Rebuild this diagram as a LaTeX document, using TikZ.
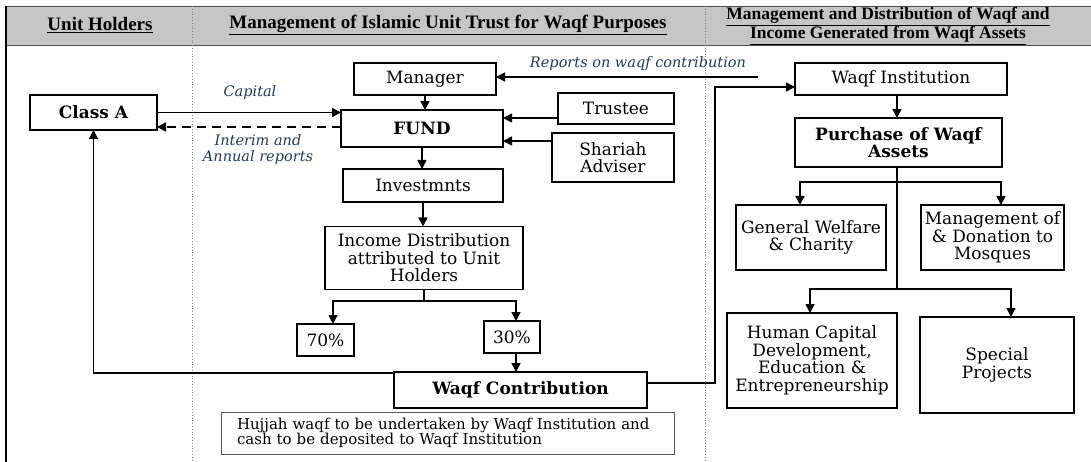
\documentclass[tikz,border=0pt]{standalone}
\usepackage{fontspec}
\setmainfont{DejaVu Serif}
\newfontfamily\hdrfont{Liberation Serif}
\usetikzlibrary{arrows.meta,calc}
\definecolor{lblue}{HTML}{1F3A5F}
\definecolor{hdrgray}{HTML}{C6C6C6}
\begin{document}
\begin{tikzpicture}[x=1pt,y=-1pt,
 box/.style={draw, line width=1.6pt, inner sep=0pt, outer sep=0pt, align=center, font=\fontsize{17}{17.5}\selectfont},
 boldbox/.style={box, font=\fontsize{17}{17.5}\selectfont\bfseries},
 arr/.style={line width=1.6pt, -{Triangle[length=9pt,width=9pt]}},
 ln/.style={line width=1.6pt},
 lbl/.style={font=\fontsize{14.5}{15.5}\selectfont\itshape, text=lblue, align=center, inner sep=0pt},
 hdr/.style={font=\hdrfont\bfseries\fontsize{19}{17}\selectfont, align=center, inner sep=0pt},
 hdrr/.style={font=\hdrfont\bfseries\fontsize{17.5}{16.5}\selectfont, align=center, inner sep=0pt},
 sep/.style={draw=gray, dotted, line width=0.8pt}]
\useasboundingbox (0,0) rectangle (1091,462);
% header band
\fill[hdrgray] (6,6) rectangle (1091,45);
\draw[gray!60!black, line width=0.8pt] (6,6) -- (1091,6);
\draw[gray!60!black, line width=0.8pt] (6,45) -- (1091,45);
\draw[black, line width=1.2pt] (6,6) -- (6,462);
\draw[sep] (192,6) -- (192,462);
\draw[sep] (705,6) -- (705,462);
\node[hdr] (h1) at (100,25) {\underline{Unit Holders}};
\node[hdr] (h2) at (448,25) {\underline{Management of Islamic Unit Trust for Waqf Purposes}};
\node[hdrr] (h3) at (888,26) {\underline{Management and Distribution of Waqf and}\\\underline{Income Generated from Waqf Assets}};
% nodes
\node[boldbox, minimum width=127pt, minimum height=35pt] (classA) at (93.5,112.5) {Class A};
\node[box, minimum width=142pt, minimum height=32pt] (manager) at (425,79) {Manager};
\node[boldbox, minimum width=162pt, minimum height=37pt] (fund) at (422,128.5) {FUND};
\node[box, minimum width=116pt, minimum height=31pt] (trustee) at (616,108.5) {Trustee};
\node[box, minimum width=122pt, minimum height=49pt] (shariah) at (613,157.5) {Shariah\\Adviser};
\node[box, minimum width=160pt, minimum height=33pt] (invest) at (423,185.5) {Investmnts};
\node[box, minimum width=198pt, minimum height=63pt] (income) at (424,258) {Income Distribution\\attributed to Unit\\Holders};
\node[box, minimum width=57pt, minimum height=32pt] (p70) at (325.5,340) {70\%};
\node[box, minimum width=56pt, minimum height=32pt] (p30) at (512,337) {30\%};
\node[boldbox, line width=2.8pt, minimum width=253pt, minimum height=36pt] (wc) at (520.5,390) {Waqf Contribution};
\node[draw=gray!70!black, line width=1pt, inner sep=0pt, minimum width=453pt, minimum height=42pt, font=\fontsize{15}{15}\selectfont, align=left, text width=421pt] (hujjah) at (447.5,433) {Hujjah waqf to be undertaken by Waqf Institution and\\cash to be deposited to Waqf Institution};
\node[box, minimum width=212pt, minimum height=32pt] (wi) at (901,79) {Waqf Institution};
\node[boldbox, minimum width=207pt, minimum height=49pt] (purchase) at (898.5,142.5) {Purchase of Waqf\\Assets};
\node[box, minimum width=150pt, minimum height=65pt] (gw) at (811,237.5) {General Welfare\\\& Charity};
\node[box, minimum width=143pt, minimum height=65pt] (mosq) at (992.5,237.5) {Management of\\\& Donation to\\Mosques};
\node[box, minimum width=170pt, minimum height=95pt] (hc) at (812,360.5) {Human Capital\\Development,\\Education \&\\Entrepreneurship};
\node[box, minimum width=154pt, minimum height=96pt] (sp) at (997,365) {Special\\Projects};
% labels
\node[lbl] (lcap) at (250,93) {Capital};
\node[lbl] (lint) at (258,149.5) {Interim and\\Annual reports};
\node[lbl] (lrep) at (638,64) {Reports on waqf contribution};
% connectors left/middle
\draw[arr] (classA.east) -- (classA.east -| fund.west);
\draw[arr, dash pattern=on 9pt off 6pt] (fund.west |- 0,127) -- (classA.east |- 0,127);
\draw[arr] (manager.south) -- (manager.south |- fund.north);
\draw[arr] (trustee.west |- 0,118) -- (fund.east |- 0,118);
\draw[arr] (shariah.west |- 0,141) -- (fund.east |- 0,141);
\draw[arr] (fund.south) -- (fund.south |- invest.north);
\draw[arr] (invest.south) -- (invest.south |- income.north);
\coordinate (b70) at (333,301);
\coordinate (b30) at (516,301);
\draw[ln] (income.south) -- (income.south |- b70);
\draw[arr] (b30) -- (b70) -- (b70 |- p70.north);
\draw[arr] (b70) -- (b30) -- (b30 |- p30.north);
\draw[arr] (p30.south -| b30) -- (b30 |- wc.north);
\draw[arr] (wc.west |- 0,373) -- (classA.south |- 0,373) -- (classA.south);
\coordinate (rv) at (715,383);
\draw[arr] (wc.east |- rv) -- (rv) -- (rv |- 0,87) -- (wi.west |- 0,87);
\coordinate (rep) at (758,77);
\draw[arr] (rep) -- (rep -| manager.east);
% right column
\coordinate (cv) at (897,182);
\draw[arr] (wi.south -| cv) -- (cv |- purchase.north);
\draw[ln] (purchase.south -| cv) -- (cv |- 0,289);
\coordinate (bgw) at (800,182);
\coordinate (bmo) at (1001,182);
\draw[arr] (cv) -- (bgw) -- (bgw |- gw.north);
\draw[arr] (cv) -- (bmo) -- (bmo |- mosq.north);
\coordinate (bhc) at (810,289);
\coordinate (bsp) at (1011,289);
\draw[arr] (cv |- bhc) -- (bhc) -- (bhc |- hc.north);
\draw[arr] (cv |- bhc) -- (bsp) -- (bsp |- sp.north);
\end{tikzpicture}
\end{document}
